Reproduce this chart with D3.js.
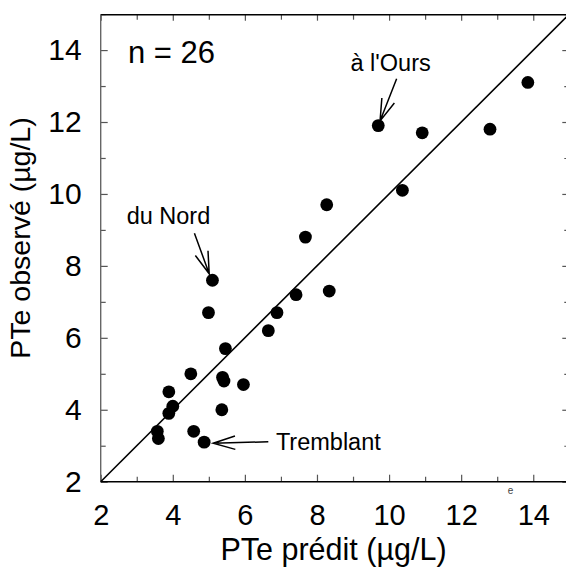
<!DOCTYPE html>
<html>
<head>
<meta charset="utf-8">
<script src="https://cdn.jsdelivr.net/npm/d3@7"></script>
<style>
  html, body { margin: 0; padding: 0; background: #fff; }
  svg { display: block; }
  text { font-family: "Liberation Sans", Arial, sans-serif; fill: #000; }
</style>
</head>
<body>
<svg id="chart" width="566" height="582"></svg>
<script>
// ---- data ----
const predicted = [13.85, 12.8, 9.7, 10.92, 10.37, 8.27, 7.68, 5.1, 8.34, 7.42, 4.99, 6.89, 6.65,
                   5.46, 4.5, 5.38, 5.42, 5.96, 3.89, 4.0, 3.89, 5.36, 3.57, 3.6, 4.58, 4.87];
const observed  = [13.1, 11.8, 11.9, 11.7, 10.1, 9.7, 8.8, 7.6, 7.3, 7.2, 6.7, 6.7, 6.2,
                   5.7, 5.0, 4.9, 4.8, 4.7, 4.5, 4.1, 3.9, 4.0, 3.4, 3.2, 3.4, 3.1];
const majorTicks = [2, 4, 6, 8, 10, 12, 14];
const minorTicks = [3, 5, 7, 9, 11, 13, 15];
const axisDomain = [2, 15];
const xTitle = "PTe prédit (\u00b5g/L)";
const yTitle = "PTe observé (\u00b5g/L)";
const nLabel = "n = 26";
const annotLabels = ["à l'Ours", "du Nord", "Tremblant"];
// annotation anchors in data units: text position, arrow start, arrow tip
const annotText  = [[8.93, 13.43], [2.72, 9.16], [6.86, 2.88]];
const arrowStart = [[10.21, 13.2], [4.6, 8.91], [6.65, 3.11]];
const arrowTip   = [[9.75, 12.03], [5.01, 7.78], [5.12, 3.07]];

// ---- layout ----
const svg = d3.select("#chart");
const pLeft = 100.7, pRight = 569.3, pTop = 14.1, pBottom = 481.7;
const x = d3.scaleLinear().domain(axisDomain).range([pLeft, pRight]);
const y = d3.scaleLinear().domain(axisDomain).range([pBottom, pTop]);
const tickColor = "#555";

// axes: major & minor on all four sides, ticks pointing inward
function addAxis(gen, transform, ticks, size, labels, pad, fs) {
  const g = svg.append("g").attr("transform", transform)
    .call(gen.tickValues(ticks).tickSize(size).tickPadding(pad)
      .tickFormat(labels ? d3.format("d") : () => ""));
  g.attr("font-size", null).attr("font-family", null);
  g.select(".domain").remove();
  g.selectAll(".tick line").attr("stroke", tickColor).attr("stroke-width", 1.2);
  g.selectAll(".tick text").style("font-size", (fs || 30) + "px");
  return g;
}
addAxis(d3.axisBottom(x), `translate(0,${pBottom})`, majorTicks, -7, true, 23.2, 29);
addAxis(d3.axisBottom(x), `translate(0,${pBottom})`, minorTicks, -5, false, 0);
addAxis(d3.axisLeft(y), `translate(${pLeft},0)`, majorTicks, -7, true, 19, 30);
addAxis(d3.axisLeft(y), `translate(${pLeft},0)`, minorTicks, -5, false, 0);
addAxis(d3.axisTop(x), `translate(0,${pTop + 0.6})`, majorTicks, -6, false, 0);
addAxis(d3.axisTop(x), `translate(0,${pTop + 0.6})`, minorTicks, -5, false, 0);
addAxis(d3.axisRight(y), `translate(${pRight},0)`, majorTicks, -7, false, 0);
addAxis(d3.axisRight(y), `translate(${pRight},0)`, minorTicks, -5, false, 0);

// frame
svg.append("line").attr("x1", pLeft).attr("x2", pRight).attr("y1", pBottom).attr("y2", pBottom)
  .attr("stroke", "#000").attr("stroke-width", 1.4);
svg.append("line").attr("x1", pLeft).attr("x2", pRight).attr("y1", pTop + 0.6).attr("y2", pTop + 0.6)
  .attr("stroke", "#000").attr("stroke-width", 1.4);
svg.append("line").attr("x1", pLeft).attr("x2", pLeft).attr("y1", pTop + 0.6).attr("y2", pBottom)
  .attr("stroke", "#666").attr("stroke-width", 1.4);
svg.append("line").attr("x1", pRight).attr("x2", pRight).attr("y1", pTop).attr("y2", pBottom)
  .attr("stroke", "#000").attr("stroke-width", 1.4);

// 1:1 line
svg.append("line")
  .attr("x1", x(axisDomain[0])).attr("y1", y(axisDomain[0]))
  .attr("x2", x(axisDomain[1])).attr("y2", y(axisDomain[1]))
  .attr("stroke", "#000").attr("stroke-width", 1.6);

// points
svg.append("g").selectAll("circle")
  .data(predicted.map((p, i) => [p, observed[i]]))
  .join("circle")
  .attr("cx", d => x(d[0])).attr("cy", d => y(d[1]))
  .attr("r", 6.4).attr("fill", "#000");

// annotations
annotLabels.forEach((lab, i) => {
  svg.append("text").attr("x", x(annotText[i][0])).attr("y", y(annotText[i][1]))
    .style("font-size", "23.5px").text(lab);
  const sx = x(arrowStart[i][0]), sy = y(arrowStart[i][1]);
  const tx = x(arrowTip[i][0]), ty = y(arrowTip[i][1]);
  const ang = Math.atan2(sy - ty, sx - tx);
  const L = 23, a = 17 * Math.PI / 180;
  const b1 = [tx + L * Math.cos(ang + a), ty + L * Math.sin(ang + a)];
  const b2 = [tx + L * Math.cos(ang - a), ty + L * Math.sin(ang - a)];
  svg.append("path")
    .attr("d", `M${sx},${sy}L${tx},${ty}M${b1[0]},${b1[1]}L${tx},${ty}L${b2[0]},${b2[1]}`)
    .attr("fill", "none").attr("stroke", "#000").attr("stroke-width", 1.5);
});

// n label
svg.append("text").attr("x", 128).attr("y", 62.5).style("font-size", "31px").text(nLabel);

// stray small "e"
svg.append("text").attr("x", 510.5).attr("y", 494).attr("text-anchor", "middle")
  .style("font-size", "10px").style("fill", "#444").text("e");

// axis titles
svg.append("text").attr("x", 333.5).attr("y", 559.5).attr("text-anchor", "middle")
  .style("font-size", "30.5px").text(xTitle);
svg.append("text").attr("transform", `translate(30,238) rotate(-90)`).attr("text-anchor", "middle")
  .style("font-size", "28.5px").text(yTitle);
</script>
</body>
</html>
